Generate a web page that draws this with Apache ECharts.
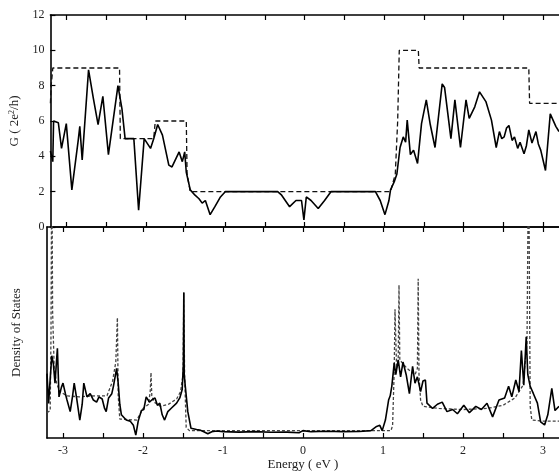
<!DOCTYPE html>
<html>
<head>
<meta charset="utf-8">
<script src="https://cdn.jsdelivr.net/npm/echarts@6/dist/echarts.min.js"></script>
<style>html,body{margin:0;padding:0;background:#fff}#c{width:559px;height:476px}</style>
</head>
<body>
<div id="c"></div>
<script>
// ---- data ----
var xTickLabels = [-3, -2, -1, 0, 1, 2, 3];
var xTickMarks = [-3, -2.5, -2, -1.5, -1, -0.5, 0, 0.5, 1, 1.5, 2, 2.5, 3];
var gTickLabels = [0, 2, 4, 6, 8, 10, 12];

// Conductance, disordered (solid)
var gSolid = [
[-3.20,4.3],[-3.17,3.7],[-3.16,6.0],[-3.10,5.9],[-3.06,4.45],[-3.00,5.85],[-2.93,2.1],[-2.85,4.9],[-2.83,5.7],[-2.80,3.8],
[-2.72,8.9],[-2.66,7.3],[-2.60,5.8],[-2.54,7.4],[-2.47,4.1],[-2.35,8.0],[-2.30,6.7],[-2.26,5.0],[-2.15,5.0],[-2.09,0.95],
[-2.02,5.0],[-1.94,4.45],[-1.90,5.0],[-1.85,5.8],[-1.79,5.2],[-1.71,3.5],[-1.67,3.4],[-1.58,4.25],[-1.54,3.7],[-1.51,4.25],
[-1.49,3.1],[-1.44,2.1],[-1.38,1.8],[-1.33,1.6],[-1.29,1.35],[-1.25,1.5],[-1.19,0.7],[-1.13,1.15],[-1.06,1.7],[-1.00,2.0],
[-0.34,2.0],[-0.29,1.8],[-0.19,1.15],[-0.11,1.5],[-0.04,1.5],[-0.01,0.4],[0.02,1.7],[0.08,1.5],[0.17,1.05],[0.25,1.5],
[0.33,2.0],[0.89,2.0],[0.95,1.5],[1.01,0.7],[1.06,1.5],[1.08,2.1],[1.10,2.0],[1.13,2.6],[1.16,3.0],[1.20,4.5],
[1.24,5.1],[1.27,4.8],[1.29,6.05],[1.33,4.1],[1.37,4.35],[1.42,3.6],[1.47,5.85],[1.53,7.2],[1.58,5.8],[1.64,4.5],
[1.73,8.1],[1.76,7.9],[1.84,5.0],[1.89,7.2],[1.96,4.5],[2.03,7.2],[2.07,6.15],[2.14,6.8],[2.20,7.65],[2.28,7.1],
[2.35,6.05],[2.41,4.5],[2.45,5.4],[2.48,5.0],[2.51,5.1],[2.54,5.6],[2.57,5.75],[2.61,4.9],[2.64,5.1],[2.68,4.45],
[2.71,4.8],[2.76,4.15],[2.79,4.6],[2.82,5.5],[2.86,4.75],[2.91,5.4],[2.94,4.7],[2.97,4.35],[3.03,3.2],[3.09,6.4],
[3.16,5.7],[3.20,5.4]
];

// Conductance, clean (dashed)
var gDashed = [
[-3.20,7.0],[-3.19,7.0],[-3.19,8.0],[-3.18,8.0],[-3.17,9.0],[-2.33,9.0],[-2.32,5.0],[-1.90,5.0],[-1.88,6.0],[-1.49,6.0],
[-1.48,3.0],[-1.44,2.0],[1.08,2.0],[1.14,3.0],[1.17,6.0],[1.19,6.1],[1.19,10.0],[1.43,10.0],[1.44,9.0],[2.82,9.0],
[2.83,7.0],[3.20,7.0]
];

// Density of states, disordered (solid)
var dosSolid = [
[-3.20,3.05],[-3.18,1.64],[-3.16,2.8],[-3.14,3.9],[-3.12,3.5],[-3.10,2.6],[-3.07,4.25],[-3.05,1.95],[-3.02,2.4],[-3.00,2.6],
[-2.97,2.1],[-2.95,1.8],[-2.91,1.25],[-2.88,2.0],[-2.86,2.6],[-2.83,1.9],[-2.79,0.85],[-2.76,1.6],[-2.74,2.6],[-2.70,1.95],
[-2.66,2.1],[-2.62,1.8],[-2.58,1.7],[-2.55,1.95],[-2.51,1.85],[-2.48,1.4],[-2.46,1.25],[-2.43,1.9],[-2.39,2.1],[-2.37,2.45],
[-2.33,3.3],[-2.31,2.6],[-2.29,1.6],[-2.27,1.1],[-2.21,0.85],[-2.16,0.8],[-2.12,0.6],[-2.09,0.14],[-2.06,0.8],[-2.02,1.3],
[-1.99,1.35],[-1.96,1.95],[-1.92,1.7],[-1.89,1.8],[-1.85,1.9],[-1.82,1.55],[-1.79,1.65],[-1.76,1.1],[-1.73,0.85],[-1.69,1.25],
[-1.65,1.4],[-1.58,1.65],[-1.54,1.9],[-1.51,2.3],[-1.495,3.5],[-1.49,6.9],[-1.485,3.0],[-1.47,2.4],[-1.44,1.25],[-1.40,0.46],
[-1.33,0.4],[-1.29,0.38],[-1.24,0.3],[-1.19,0.2],[-1.14,0.3],[-1.08,0.33],[-1.00,0.3],[-0.80,0.28],[-0.60,0.3],[-0.40,0.27],
[-0.20,0.28],[-0.05,0.25],[0.00,0.35],[0.10,0.3],[0.30,0.32],[0.50,0.3],[0.70,0.31],[0.85,0.35],[0.92,0.55],[0.96,0.6],
[0.99,0.35],[1.01,0.4],[1.03,0.85],[1.07,1.8],[1.09,2.0],[1.11,2.45],[1.14,3.55],[1.16,3.0],[1.19,3.7],[1.22,2.9],
[1.25,3.6],[1.29,3.0],[1.33,2.1],[1.37,3.4],[1.40,2.6],[1.43,2.9],[1.47,2.2],[1.50,2.7],[1.53,2.75],[1.55,1.65],
[1.62,1.4],[1.68,1.6],[1.74,1.7],[1.80,1.25],[1.87,1.35],[1.93,1.15],[2.01,1.55],[2.08,1.2],[2.16,1.5],[2.23,1.35],
[2.30,1.65],[2.37,1.0],[2.45,1.8],[2.52,1.9],[2.57,2.45],[2.61,1.95],[2.66,2.75],[2.70,2.2],[2.73,4.15],[2.76,2.5],
[2.79,4.8],[2.81,3.0],[2.84,2.45],[2.88,2.1],[2.93,1.65],[2.97,0.77],[3.02,0.62],[3.06,1.1],[3.11,2.35],[3.15,1.3],
[3.20,1.5]
];

// Density of states, clean (dashed)
var dosDashed = [
[-3.20,1.2],[-3.16,1.3],[-3.15,5],[-3.14,14],[-3.13,6],[-3.11,3.3],[-3.08,2.6],[-3.04,2.2],[-2.95,2.0],[-2.80,1.95],
[-2.60,2.0],[-2.45,2.0],[-2.38,2.7],[-2.34,3.6],[-2.32,5.7],[-2.31,2.0],[-2.29,0.9],[-2.08,0.85],[-2.04,1.1],[-2.00,1.4],
[-1.93,1.6],[-1.91,2.2],[-1.90,3.1],[-1.89,2.0],[-1.86,1.7],[-1.78,1.5],[-1.68,1.6],[-1.58,1.85],[-1.53,2.2],[-1.50,3.0],
[-1.49,6.9],[-1.48,3.0],[-1.46,0.5],[-1.42,0.35],[1.10,0.35],[1.12,0.6],[1.14,3.2],[1.15,6.1],[1.17,3.3],[1.19,3.6],
[1.20,7.25],[1.21,3.7],[1.30,3.3],[1.40,3.0],[1.43,3.3],[1.44,7.55],[1.45,3.0],[1.47,1.8],[1.50,1.5],[1.70,1.4],
[2.00,1.35],[2.30,1.4],[2.50,1.55],[2.65,1.9],[2.75,2.5],[2.80,4.5],[2.82,14],[2.84,1.5],[2.86,0.85],[3.00,0.8],
[3.20,0.8]
];

// ---- chart ----
var FONT = 'Liberation Serif';
var black = '#000';
function xAx(grid, pos, labels, name) {
  return {
    type: 'value', gridIndex: grid, position: pos, min: -3.2, max: 3.2,
    axisLine: {show: true, onZero: false, lineStyle: {color: black, width: 1.6}},
    axisTick: {show: true, inside: true, length: 5, customValues: xTickMarks, lineStyle: {color: black, width: 1.2}},
    axisLabel: labels ? {show: true, customValues: xTickLabels, margin: 7, color: '#222', fontFamily: FONT, fontSize: 12} : {show: false},
    splitLine: {show: false},
    name: name || '', nameLocation: 'middle', nameGap: 17,
    nameTextStyle: {fontFamily: FONT, fontSize: 13, color: '#222'}
  };
}
var chart = echarts.init(document.getElementById('c'), null, {renderer: 'canvas'});
chart.setOption({
  backgroundColor: '#fff',
  animation: false,
  grid: [
    {left: 47, top: 15, width: 513, height: 212},
    {left: 47, top: 227, width: 513, height: 211}
  ],
  xAxis: [
    xAx(0, 'bottom', false),
    xAx(0, 'top', false),
    xAx(1, 'bottom', true, 'Energy ( eV )'),
    xAx(1, 'top', false)
  ],
  yAxis: [
    {type: 'value', gridIndex: 0, min: 0, max: 12, interval: 2, position: 'left',
     axisLine: {show: true, onZero: false, lineStyle: {color: black, width: 1.6}},
     axisTick: {show: true, inside: true, length: 5, lineStyle: {color: black, width: 1.2}},
     axisLabel: {show: true, customValues: gTickLabels, margin: 6, color: '#222', fontFamily: FONT, fontSize: 12},
     splitLine: {show: false},
     name: 'G ( 2e{s|2}/h)', nameLocation: 'middle', nameGap: 28,
     nameTextStyle: {fontFamily: FONT, fontSize: 13, color: '#222',
       rich: {s: {fontFamily: FONT, fontSize: 8, color: '#222', verticalAlign: 'top', padding: [0, 0, 6, 0]}}}},
    {type: 'value', gridIndex: 1, min: 0, max: 10, position: 'left',
     axisLine: {show: true, onZero: false, lineStyle: {color: black, width: 1.6}},
     axisTick: {show: false}, axisLabel: {show: false}, splitLine: {show: false},
     name: 'Density of States', nameLocation: 'middle', nameGap: 24,
     nameTextStyle: {fontFamily: FONT, fontSize: 13, color: '#222'}}
  ],
  series: [
    {type: 'line', xAxisIndex: 0, yAxisIndex: 0, data: gDashed, showSymbol: false, clip: true,
     lineStyle: {color: '#111', width: 1.3, type: [5, 3]}},
    {type: 'line', xAxisIndex: 0, yAxisIndex: 0, data: gSolid, showSymbol: false, clip: true,
     lineStyle: {color: '#000', width: 1.6}},
    {type: 'line', xAxisIndex: 2, yAxisIndex: 1, data: dosDashed, showSymbol: false, clip: true,
     lineStyle: {color: '#444', width: 1.3, type: [3, 2]}},
    {type: 'line', xAxisIndex: 2, yAxisIndex: 1, data: dosSolid, showSymbol: false, clip: true,
     lineStyle: {color: '#000', width: 1.6}}
  ]
});
</script>
</body>
</html>
